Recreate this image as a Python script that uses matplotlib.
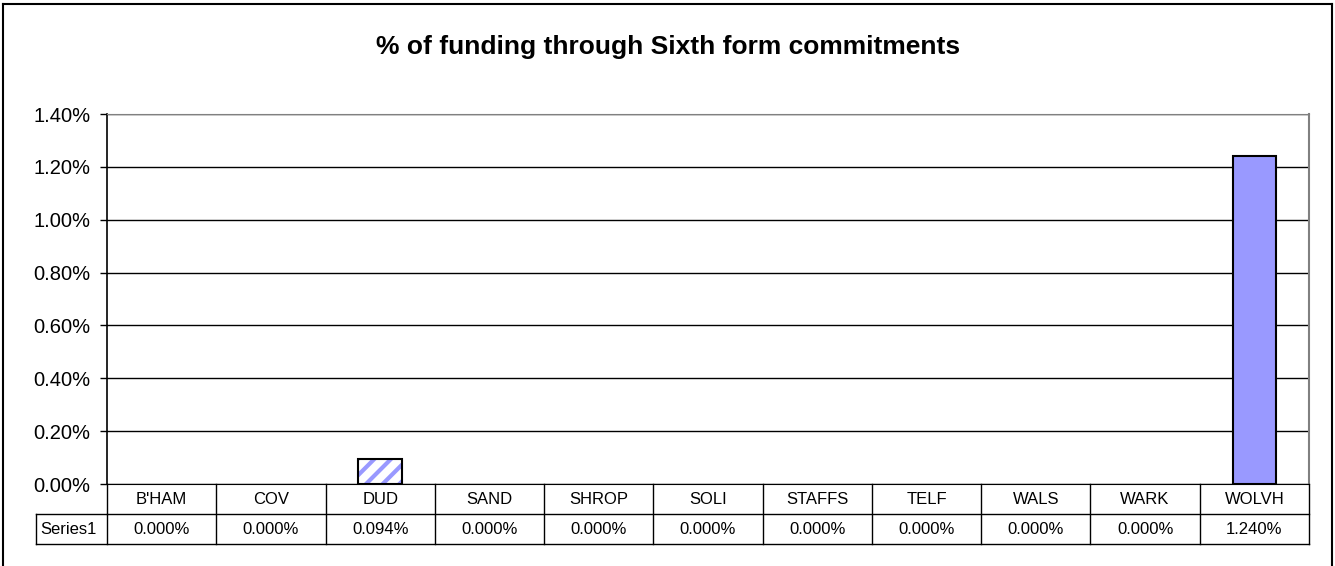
import matplotlib
matplotlib.use("Agg")
import matplotlib.pyplot as plt
from matplotlib.lines import Line2D
import numpy as np

categories = ["B'HAM", "COV", "DUD", "SAND", "SHROP", "SOLI", "STAFFS", "TELF", "WALS", "WARK", "WOLVH"]
values = [0.000, 0.000, 0.094, 0.000, 0.000, 0.000, 0.000, 0.000, 0.000, 0.000, 1.240]
hatched = [False, False, True, False, False, False, False, False, False, False, False]
series_name = "Series1"
yticks = [0.0, 0.2, 0.4, 0.6, 0.8, 1.0, 1.2, 1.4]
title = "% of funding through Sixth form commitments"

plt.rcParams['font.family'] = ['Liberation Sans', 'DejaVu Sans']
plt.rcParams['hatch.linewidth'] = 3.0

W, H = 1335, 566
fig = plt.figure(figsize=(W/100, H/100), dpi=100)

def fx(px): return px / W
def fy(py): return 1 - py / H

# outer frame
fig.add_artist(Line2D([fx(3), fx(3)], [fy(4), fy(570)], color='black', lw=1.5, transform=fig.transFigure))
fig.add_artist(Line2D([fx(3), fx(1332)], [fy(4), fy(4)], color='black', lw=1.5, transform=fig.transFigure))
fig.add_artist(Line2D([fx(1332), fx(1332)], [fy(4), fy(570)], color='black', lw=1.5, transform=fig.transFigure))

left, right, top, bottom = 107, 1309, 114, 484
ax = fig.add_axes([fx(left), fy(bottom), fx(right - left), fy(top) - fy(bottom)])

x = np.arange(len(categories))
for xi, v, h in zip(x, values, hatched):
    elw = 1.5 if v > 0 else 0
    if h:
        ax.bar(xi, v, width=0.4, color='white', edgecolor='#9999FF', hatch='//', lw=0, zorder=3)
        ax.bar(xi, v, width=0.4, fill=False, edgecolor='black', lw=elw, zorder=4)
    else:
        ax.bar(xi, v, width=0.4, color='#9999FF', edgecolor='black', lw=elw, zorder=3)

ax.set_xlim(-0.5, len(categories) - 0.5)
ax.set_ylim(0, 1.4)
ax.set_yticks(yticks)
ax.set_yticklabels([f"{t:.2f}%" for t in yticks], fontsize=14.5)
ax.set_xticks([])
ax.yaxis.grid(True, color='black', lw=1)
ax.set_axisbelow(True)
ax.tick_params(axis='y', length=5, width=1, direction='out', pad=7)
ax.spines['left'].set_color('black')
ax.spines['left'].set_linewidth(1.2)
ax.spines['top'].set_color('#808080')
ax.spines['right'].set_color('#808080')
ax.spines['right'].set_linewidth(1.5)
ax.spines['bottom'].set_color('black')

# data table
row1_top, row1_bot, row2_bot = 484, 514, 544
label_left = 36
cw = (right - left) / len(categories)
lw = 1.0
def hl(x0, x1, y):
    fig.add_artist(Line2D([fx(x0), fx(x1)], [fy(y), fy(y)], color='black', lw=lw, transform=fig.transFigure))
def vl(xp, y0, y1):
    fig.add_artist(Line2D([fx(xp), fx(xp)], [fy(y0), fy(y1)], color='black', lw=lw, transform=fig.transFigure))

hl(left, right, row1_bot)
hl(label_left, right, row2_bot)
hl(label_left, left, row1_bot)
vl(label_left, row1_bot, row2_bot)
vl(left, row1_top, row2_bot)
for i in range(1, len(categories) + 1):
    vl(left + i * cw, row1_top, row2_bot)

for i, (c, v) in enumerate(zip(categories, values)):
    cx = left + (i + 0.5) * cw
    fig.text(fx(cx), fy((row1_top + row1_bot) / 2), c, ha='center', va='center', fontsize=12)
    fig.text(fx(cx), fy((row1_bot + row2_bot) / 2), f"{v:.3f}%", ha='center', va='center', fontsize=12)
fig.text(fx(label_left + 4), fy((row1_bot + row2_bot) / 2), series_name, ha='left', va='center', fontsize=12)

fig.text(fx(668.5), fy(54), title, ha='center', va='baseline', fontsize=19, fontweight='bold')

fig.savefig("out.png", dpi=100)
